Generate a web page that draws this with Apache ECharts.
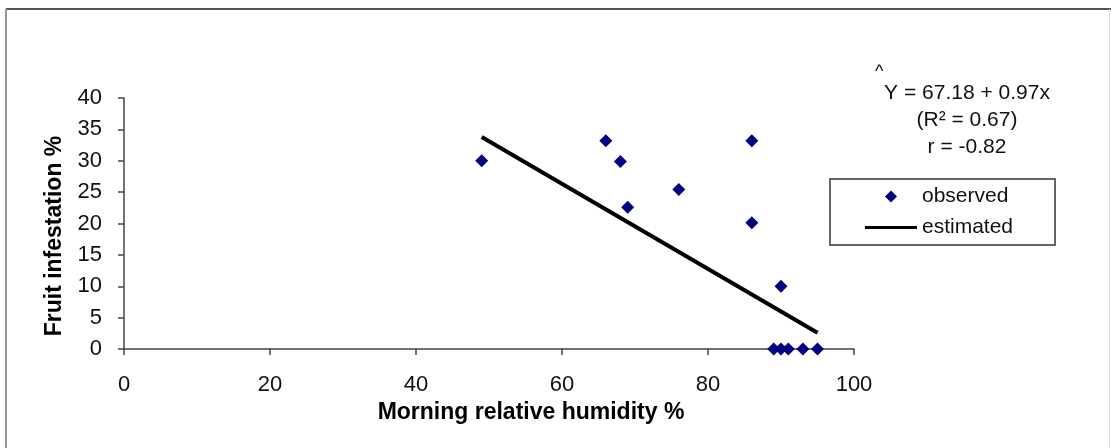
<!DOCTYPE html>
<html>
<head>
<meta charset="utf-8">
<script src="https://cdn.jsdelivr.net/npm/echarts@6/dist/echarts.min.js"></script>
<style>
html,body{margin:0;padding:0;background:#fff;}
#chart{width:1111px;height:448px;}
</style>
</head>
<body>
<div id="chart"></div>
<script>
// ---- data ----
const humidity = [49, 66, 68, 69, 76, 86, 86, 90, 89, 90, 91, 93, 95];
const infestation = [30, 33.2, 29.9, 22.6, 25.4, 33.2, 20.1, 10, 0, 0, 0, 0, 0];
const estHumidity = [49, 95];
const estInfestation = [33.8, 2.6];
const seriesNames = ['observed', 'estimated'];
const xTitle = 'Morning relative humidity %';
const yTitle = 'Fruit infestation %';
const hatText = '^';
const eqLines = ['Y = 67.18 + 0.97x', '(R\u00B2 = 0.67)', 'r = -0.82'];

const FONT = '"Liberation Sans", Arial, sans-serif';
const chart = echarts.init(document.getElementById('chart'));

const option = {
  animation: false,
  backgroundColor: '#ffffff',
  grid: { left: 124, right: 257, top: 98, bottom: 99, containLabel: false },
  xAxis: {
    type: 'value', min: 0, max: 100, interval: 20,
    name: xTitle, nameLocation: 'middle', nameGap: 50,
    nameTextStyle: { fontFamily: FONT, fontSize: 23, fontWeight: 'bold', color: '#000', padding: [0, 0, 0, 84] },
    axisLine: { show: true, onZero: false, lineStyle: { color: '#444', width: 1.5 } },
    axisTick: { show: true, inside: false, length: 6, lineStyle: { color: '#444', width: 1.5 } },
    axisLabel: { fontFamily: FONT, fontSize: 22, color: '#111', margin: 25 },
    splitLine: { show: false }
  },
  yAxis: {
    type: 'value', min: 0, max: 40, interval: 5,
    name: yTitle, nameLocation: 'middle', nameGap: 57, nameRotate: 90,
    nameTextStyle: { fontFamily: FONT, fontSize: 23, fontWeight: 'bold', color: '#000', padding: [0, 25, 0, 0] },
    axisLine: { show: true, lineStyle: { color: '#444', width: 1.5 } },
    axisTick: { show: true, inside: false, length: 6, lineStyle: { color: '#444', width: 1.5 } },
    axisLabel: { fontFamily: FONT, fontSize: 22, color: '#111', margin: 22 },
    splitLine: { show: false }
  },
  legend: {
    orient: 'vertical',
    left: 830, top: 179,
    padding: [7, 42, 7, 35],
    itemWidth: 52, itemHeight: 12, itemGap: 10,
    symbolKeepAspect: true,
    borderColor: '#333', borderWidth: 1.5,
    textStyle: { fontFamily: FONT, fontSize: 21, color: '#111' },
    data: [
      { name: seriesNames[0], icon: 'path://M6 0L12 6L6 12L0 6Z' },
      { name: seriesNames[1], icon: 'path://M0 0H52V3H0Z' }
    ]
  },
  graphic: [
    { type: 'line', shape: { x1: 6, y1: 9, x2: 1111, y2: 9 }, style: { stroke: '#555', lineWidth: 2 }, silent: true },
    { type: 'line', shape: { x1: 6, y1: 9, x2: 6, y2: 448 }, style: { stroke: '#999', lineWidth: 2 }, silent: true },
    { type: 'line', shape: { x1: 1109.5, y1: 9, x2: 1109.5, y2: 448 }, style: { stroke: '#ddd', lineWidth: 1 }, silent: true },
    { type: 'text', left: 875, top: 63, style: { text: hatText, font: '18px ' + FONT, fill: '#111' } },
    { type: 'text', x: 967, y: 80, style: { text: eqLines.join('\n'), font: '21px ' + FONT, fill: '#111', align: 'center', lineHeight: 27 } }
  ],
  series: [
    {
      name: seriesNames[0], type: 'scatter',
      symbol: 'diamond', symbolSize: 13,
      itemStyle: { color: '#000080', opacity: 1 },
      data: humidity.map((h, i) => [h, infestation[i]]),
      z: 3
    },
    {
      name: seriesNames[1], type: 'line',
      symbol: 'none', showSymbol: false,
      lineStyle: { color: '#000', width: 4 },
      itemStyle: { color: '#000' },
      data: estHumidity.map((h, i) => [h, estInfestation[i]]),
      z: 2
    }
  ]
};
chart.setOption(option);
</script>
</body>
</html>
